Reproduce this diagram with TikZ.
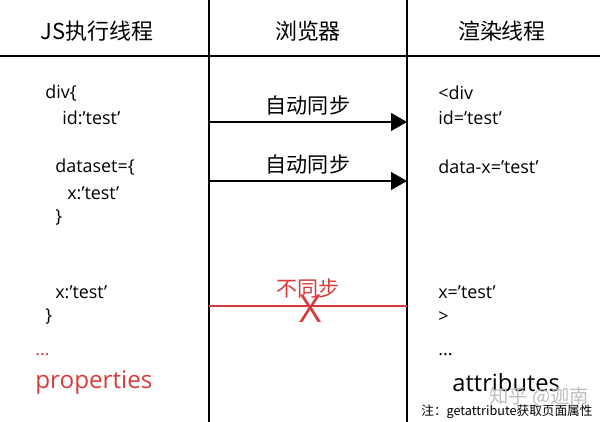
\documentclass[tikz,border=0pt]{standalone}
\usepackage{fontspec}
\setmainfont{Open Sans}
\newfontfamily\cjk{Noto Sans CJK SC}
\usetikzlibrary{arrows.meta,positioning}
\definecolor{syncred}{RGB}{214,60,62}

\begin{document}
\begin{tikzpicture}[x=0.02cm,y=-0.02cm]
  \tikzset{head/.style = {font=\cjk\fontsize{12.5}{15}\selectfont}}
  \tikzset{code/.style = {anchor=west,inner sep=0pt,font=\fontsize{10.2}{12}\selectfont}}
  \tikzset{bigcode/.style = {anchor=west,inner sep=0pt,font=\fontsize{13.8}{16}\selectfont}}
  \tikzset{synclabel/.style = {font=\cjk\fontsize{12}{14}\selectfont}}
  \tikzset{rule/.style = {line width=1.2pt}}
  \tikzset{%
  tipA/.tip={Triangle[length=9pt,width=10pt]},
}
  \tikzset{edge/.style = {-tipA, line width=1.1pt}}

  \useasboundingbox (0,0) rectangle (600,422);

	% table lines
	\coordinate (L1top) at (209,0);
	\coordinate (L1bot) at (209,422);
	\coordinate (L2top) at (407,0);
	\coordinate (L2bot) at (407,422);
	\coordinate (Hleft) at (0,56);
	\coordinate (Hright) at (600,56);
	\draw[rule] (L1top) -- (L1bot);
	\draw[rule] (L2top) -- (L2bot);
	\draw[rule] (Hleft) -- (Hright);

	\node[head] (hjs) at (97,31) {JS执行线程};
	\node[head] (hbr) at (308,31) {浏览器};
	\node[head] (hrd) at (502,31) {渲染线程};

	% JS side
	\node[code] (jsdiv) at (45,93) {div\{};
	\node[code] (jsid) at (62,118) {id:'test'};
	\node[code] (jsdata) at (55,167) {dataset=\{};
	\node[code] (jsx) at (67,193) {x:'test'};
	\node[code] (jsclose) at (55,218) {\}};
	\node[code] (jsprop) at (55,292) {x:'test'};
	\node[code] (jsend) at (45,317) {\}};
	\node[code,text=syncred] (jsdots) at (35,355) {...};
	\node[bigcode,text=syncred] (jsname) at (35,383) {properties};

	% render side
	\node[code] (rdiv) at (438,93) {<div};
	\node[code] (rid) at (438,118) {id='test'};
	\node[code] (rdata) at (438,167) {data-x='test'};
	\node[code] (rx) at (438,292) {x='test'};
	\node[code] (rend) at (438,317) {>};
	\node[code] (rdots) at (438,355) {...};
	\node[bigcode,font=\fontsize{13.5}{16}\selectfont] (rname) at (452,383) {attributes};
	\node[anchor=west,inner sep=0pt,font=\cjk\fontsize{7.2}{9}\selectfont] (note) at (421,412) {注：getattribute获取页面属性};
	\node[text=black!25,font=\cjk\fontsize{11}{13}\selectfont] (mark) at (539,397) {知乎 @迦南};

	% sync arrows
	\coordinate (s1) at (209,122);
	\coordinate (t1) at (407,122);
	\coordinate (s2) at (209,181);
	\coordinate (t2) at (407,181);
	\coordinate (n1) at (209,306);
	\coordinate (n2) at (407,306);

    \foreach \from/\to in {s1/t1, s2/t2}
    \path[edge](\from) edge node [above,synclabel]{自动同步} (\to);

	\draw[syncred,line width=1pt] (n1) -- (n2);
	\node[synclabel,text=syncred] (nosync) at (308,289) {不同步};
	\node[text=syncred,font=\fontsize{22}{24}\selectfont,inner sep=0pt] (cross) at (311,309) {X};

\end{tikzpicture}
\end{document}
